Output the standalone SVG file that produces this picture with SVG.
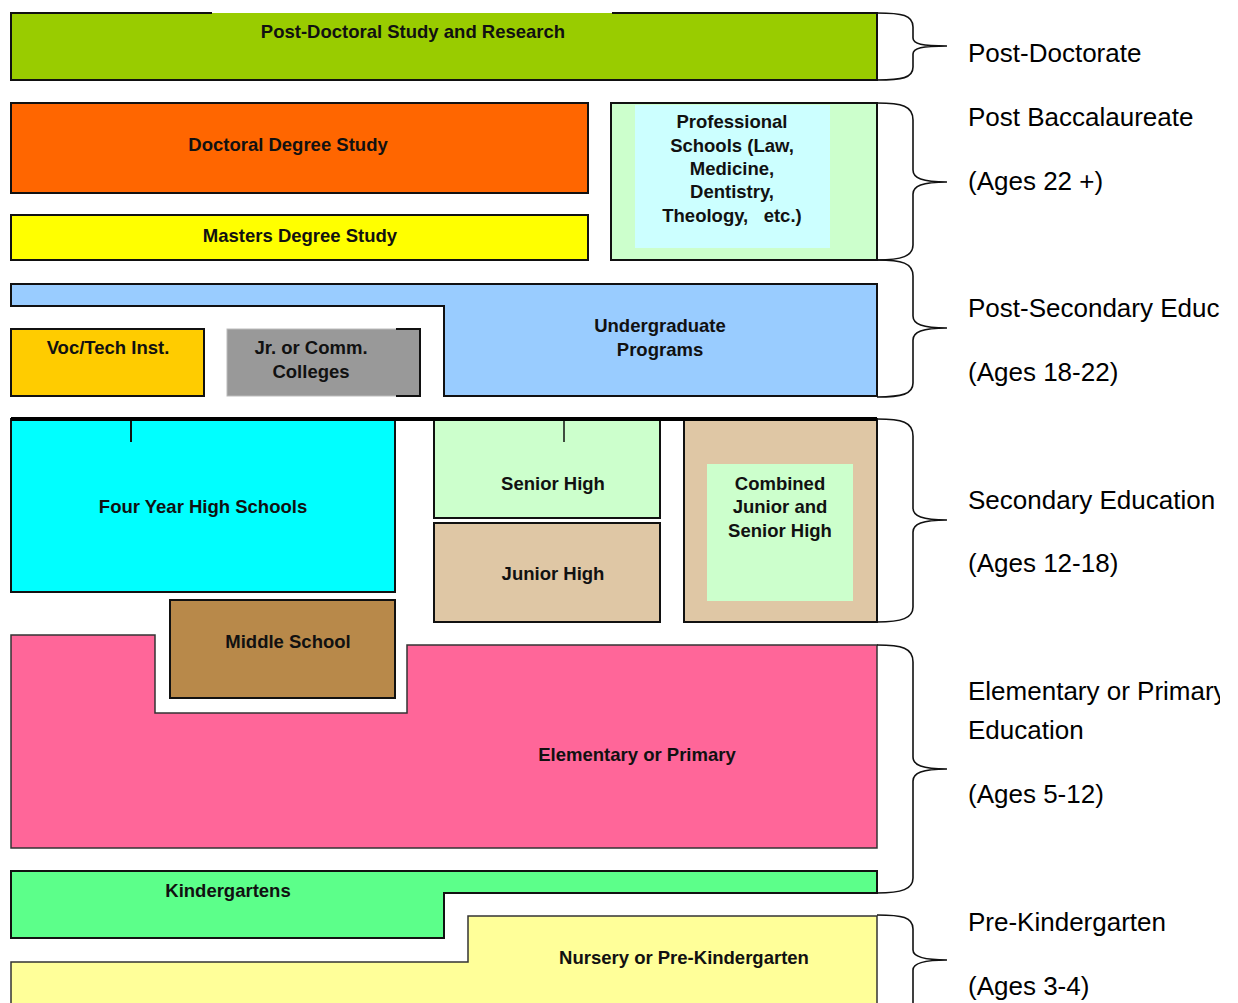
<svg xmlns="http://www.w3.org/2000/svg" width="1238" height="1003" viewBox="0 0 1238 1003">
<style>
.box{stroke:#111;stroke-width:2}
.soft{stroke:#333;stroke-width:1.5}
.lbl{font-family:"Liberation Sans",Arial,sans-serif;font-weight:bold;font-size:18.5px;text-anchor:middle;fill:#111}
.side{font-family:"Liberation Sans",Arial,sans-serif;font-size:26px;fill:#000}
.brace{fill:none;stroke:#111;stroke-width:1.6}
</style>
<defs>
<clipPath id="pageclip"><rect x="0" y="0" width="1220" height="1003"/></clipPath>
</defs>
<rect x="0" y="0" width="1238" height="1003" fill="#fff"/>

<g id="postdoc">
<rect x="11" y="13" width="866" height="67" fill="#99CC00"/>
<path d="M212,13 H11 V80 H877 V13 H612" fill="none" class="box"/>
<text class="lbl" x="413" y="38">Post-Doctoral Study and Research</text>
</g>

<g id="doctoral">
<rect x="11" y="103" width="577" height="90" fill="#FF6600" class="box"/>
<text class="lbl" x="288" y="151">Doctoral Degree Study</text>
</g>

<g id="masters">
<rect x="11" y="215" width="577" height="45" fill="#FFFF00" class="box"/>
<text class="lbl" x="300" y="241.5">Masters Degree Study</text>
</g>

<g id="professional">
<rect x="611" y="103" width="266" height="157" fill="#CCFFCC" class="box"/>
<rect x="635" y="105" width="195" height="143" fill="#CCFFFF"/>
<text class="lbl" x="732" y="128">Professional</text>
<text class="lbl" x="732" y="152">Schools (Law,</text>
<text class="lbl" x="732" y="175">Medicine,</text>
<text class="lbl" x="732" y="198">Dentistry,</text>
<text class="lbl" x="732" y="222" xml:space="preserve">Theology,   etc.)</text>
</g>

<g id="undergraduate">
<path d="M11,284 H877 V396 H444 V306 H11 Z" fill="#99CCFF" class="box"/>
<text class="lbl" x="660" y="331.5">Undergraduate</text>
<text class="lbl" x="660" y="355.5">Programs</text>
</g>

<g id="voctech">
<rect x="11" y="329" width="193" height="67" fill="#FFCC00" class="box"/>
<text class="lbl" x="108" y="353.5">Voc/Tech Inst.</text>
</g>

<g id="jrcomm">
<rect x="227" y="329" width="193" height="67" fill="#999999" stroke="#bbb" stroke-width="1"/>
<path d="M396,329 H420 V396 H396" fill="none" class="box"/>
<text class="lbl" x="311" y="353.5">Jr. or Comm.</text>
<text class="lbl" x="311" y="377.5">Colleges</text>
</g>

<g id="fouryear">
<rect x="11" y="419" width="384" height="173" fill="#00FFFF" class="box"/>
<line x1="131" y1="419" x2="131" y2="442" stroke="#111" stroke-width="2"/>
<text class="lbl" x="203" y="512.5">Four Year High Schools</text>
</g>

<g id="seniorhigh">
<rect x="434" y="419" width="226" height="99" fill="#CCFFCC" class="box"/>
<line x1="564" y1="419" x2="564" y2="442" stroke="#111" stroke-width="1.5"/>
<text class="lbl" x="553" y="489.5">Senior High</text>
</g>

<g id="juniorhigh">
<rect x="434" y="523" width="226" height="99" fill="#DFC7A5" class="box"/>
<text class="lbl" x="553" y="579.5">Junior High</text>
</g>

<g id="combined">
<rect x="684" y="419" width="193" height="203" fill="#DFC7A5" class="box"/>
<rect x="707" y="464" width="146" height="137" fill="#CCFFCC"/>
<text class="lbl" x="780" y="489.5">Combined</text>
<text class="lbl" x="780" y="512.5">Junior and</text>
<text class="lbl" x="780" y="536.5">Senior High</text>
</g>

<g id="divider">
<line x1="11" y1="419" x2="877" y2="419" stroke="#000" stroke-width="4"/>
</g>

<g id="middleschool">
<rect x="170" y="600" width="225" height="98" fill="#B8894A" class="box"/>
<text class="lbl" x="288" y="647.5">Middle School</text>
</g>

<g id="elementary">
<path d="M11,635 H155 V713 H407 V645 H877 V848 H11 Z" fill="#FF6699" class="soft"/>
<text class="lbl" x="637" y="760.5">Elementary or Primary</text>
</g>

<g id="kindergarten">
<path d="M11,871 H877 V893 H444 V938 H11 Z" fill="#5CFF8A" class="box"/>
<text class="lbl" x="228" y="896.5">Kindergartens</text>
</g>

<g id="nursery">
<path d="M11,1010 V962 H468 V916 H877 V1010 Z" fill="#FFFF99" class="soft"/>
<text class="lbl" x="684" y="963.5">Nursery or Pre-Kindergarten</text>
</g>

<g id="braces">
<path class="brace" d="M877,13 C902,13 913,15 913,27 L913,38 C913,44 922,46 947,46 C922,46 913,48 913,54 L913,67 C913,78 902,80 877,80"/>
<path class="brace" d="M877,103 C902,103 913,106 913,120 L913,170 C913,178 922,182 947,182 C922,182 913,186 913,194 L913,245 C913,256 902,260 877,260"/>
<path class="brace" d="M877,260 C902,260 913,263 913,276 L913,316 C913,324 922,328 947,328 C922,328 913,332 913,340 L913,383 C913,394 902,397 877,397"/>
<path class="brace" d="M877,419 C902,419 913,422 913,436 L913,508 C913,516 922,520 947,520 C922,520 913,524 913,532 L913,607 C913,618 902,622 877,622"/>
<path class="brace" d="M877,645 C902,645 913,648 913,662 L913,757 C913,765 922,769 947,769 C922,769 913,773 913,781 L913,878 C913,889 902,893 877,893"/>
<path class="brace" d="M877,915 C902,915 913,917 913,929 L913,950 C913,956 922,960 947,960 C922,960 913,964 913,970 L913,1010"/>
</g>

<g id="levels" clip-path="url(#pageclip)">
<text class="side" x="968" y="61.5">Post-Doctorate</text>
<text class="side" x="968" y="125.5">Post Baccalaureate</text>
<text class="side" x="968" y="189.5">(Ages 22 +)</text>
<text class="side" x="968" y="317">Post-Secondary Education</text>
<text class="side" x="968" y="381">(Ages 18-22)</text>
<text class="side" x="968" y="508.5">Secondary Education</text>
<text class="side" x="968" y="572">(Ages 12-18)</text>
<text class="side" x="968" y="700">Elementary or Primary</text>
<text class="side" x="968" y="739">Education</text>
<text class="side" x="968" y="803">(Ages 5-12)</text>
<text class="side" x="968" y="931">Pre-Kindergarten</text>
<text class="side" x="968" y="995">(Ages 3-4)</text>
</g>
</svg>
